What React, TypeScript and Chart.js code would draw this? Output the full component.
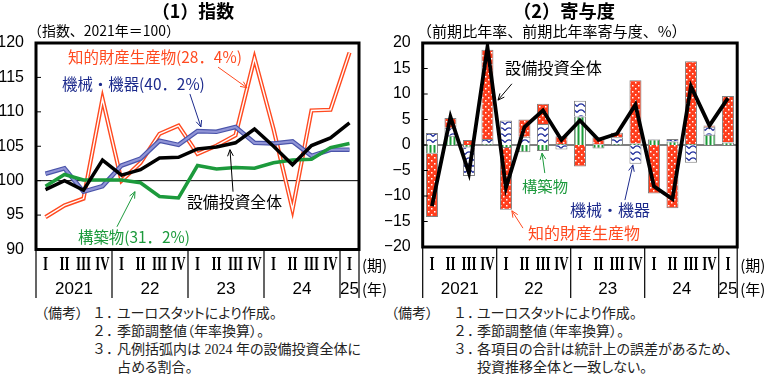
import React, { useEffect, useRef } from 'react';
import { Chart, registerables } from 'chart.js';
Chart.register(...registerables);

// ---------- data ----------
const quarterLabels = ['I', 'II', 'III', 'IV', 'I', 'II', 'III', 'IV', 'I', 'II', 'III', 'IV', 'I', 'II', 'III', 'IV', 'I'];
const yearLabels = ['2021', '22', '23', '24', '25'];
const yearSpans = [4, 4, 4, 4, 1];

// (1) index, 2021 = 100
const totalIndex = [98.7, 100.0, 98.6, 103.0, 100.8, 101.6, 103.3, 103.4, 104.6, 104.9, 105.5, 107.5, 105.0, 102.3, 105.1, 106.2, 108.4];
const machineryIndex = [101.0, 101.8, 98.4, 99.2, 102.2, 103.2, 105.8, 105.2, 107.2, 107.1, 107.8, 105.5, 105.4, 105.7, 103.6, 104.5, 104.5];
const constructionIndex = [99.2, 100.9, 100.1, 100.1, 100.1, 99.7, 97.7, 97.5, 102.2, 101.7, 101.9, 101.8, 102.6, 103.0, 103.1, 104.8, 105.4];
const ipIndex = [94.7, 96.4, 97.4, 111.9, 100.0, 102.6, 106.8, 108.0, 103.9, 105.1, 106.6, 117.8, 107.5, 95.8, 110.2, 110.3, 118.6];

// (2) contributions, annualised q/q %
const totalGrowth = [-12.0, 5.5, -5.5, 19.2, -8.4, 3.5, 6.8, 1.0, 4.8, 1.0, 2.2, 7.9, -8.1, -10.6, 11.5, 3.8, 9.2];
const constructionContrib = [-1.7, 1.8, -0.5, 0.2, -0.6, -1.4, -1.2, 0.2, 5.6, -0.7, 0.2, 0.3, 1.1, 0.7, 0.2, 2.0, 0.5];
const machineryContrib = [2.35, 1.6, -5.6, 1.0, 4.8, 1.6, 4.1, -0.9, 3.1, 0.2, 1.3, -3.7, 0.1, 0.5, -3.5, 1.6, 0.1];
const ipContrib = [-12.4, 1.9, 1.0, 17.5, -12.1, 3.4, 4.0, 1.5, -4.2, 1.3, 0.9, 12.4, -9.5, -12.4, 16.2, 0.2, 9.0];

// ---------- styles ----------
const ORANGE = '#ff4a20';
const NAVY = '#1c2a8c';
const GREEN = '#1c9a3c';
const FONT_CJK = "'Noto Sans CJK JP', 'Noto Sans', sans-serif";
const FONT_NUM = "'Liberation Sans Narrow', 'Liberation Sans', Arial, sans-serif";
const FONT_SERIF = "'Liberation Serif', 'DejaVu Serif', serif";

type Label = { text: string; x: number; y: number; w: number; size: number; color: string; weight?: string; align?: CanvasTextAlign };
type Arrow = { from: [number, number]; to: [number, number]; color: string };

function fitText(ctx: CanvasRenderingContext2D, l: Label, offX: number) {
  const weight = l.weight || 'normal';
  ctx.font = `${weight} ${l.size}px ${FONT_CJK}`;
  const w = ctx.measureText(l.text).width;
  let s = l.size * (l.w / w);
  s = Math.max(l.size * 0.85, Math.min(l.size * 1.15, s));
  ctx.font = `${weight} ${s}px ${FONT_CJK}`;
  ctx.fillStyle = l.color;
  ctx.textAlign = l.align || 'left';
  ctx.textBaseline = 'middle';
  ctx.fillText(l.text, l.x - offX, l.y);
}

function drawArrow(ctx: CanvasRenderingContext2D, x1: number, y1: number, x2: number, y2: number, color: string) {
  ctx.save();
  ctx.strokeStyle = color;
  ctx.lineWidth = 1;
  ctx.beginPath();
  ctx.moveTo(x1, y1);
  ctx.lineTo(x2, y2);
  const a = Math.atan2(y2 - y1, x2 - x1);
  const len = 7;
  ctx.moveTo(x2, y2);
  ctx.lineTo(x2 - len * Math.cos(a - 0.42), y2 - len * Math.sin(a - 0.42));
  ctx.moveTo(x2, y2);
  ctx.lineTo(x2 - len * Math.cos(a + 0.42), y2 - len * Math.sin(a + 0.42));
  ctx.stroke();
  ctx.restore();
}

function makeDecor(id: string, offX: number, refValue: number, labels: Label[], arrows: Arrow[]) {
  return {
    id,
    beforeDatasetsDraw(chart: any) {
      const { ctx, chartArea } = chart;
      const y = chart.scales.y.getPixelForValue(refValue);
      ctx.save();
      ctx.strokeStyle = '#000';
      ctx.lineWidth = 1;
      ctx.beginPath();
      ctx.moveTo(chartArea.left, y);
      ctx.lineTo(chartArea.right, y);
      ctx.stroke();
      ctx.restore();
    },
    afterDraw(chart: any) {
      const { ctx, chartArea } = chart;
      const xs = chart.scales.x;
      const ys = chart.scales.y;
      ctx.save();
      // frame
      ctx.strokeStyle = '#000';
      ctx.lineWidth = 3;
      ctx.strokeRect(chartArea.left, chartArea.top, chartArea.right - chartArea.left, chartArea.bottom - chartArea.top);
      // inward ticks
      ctx.lineWidth = 1;
      ys.ticks.forEach((t: any) => {
        const y = ys.getPixelForValue(t.value);
        ctx.beginPath();
        ctx.moveTo(chartArea.left, y);
        ctx.lineTo(chartArea.left + 5, y);
        ctx.stroke();
      });
      // quarter numerals (condensed bold serif)
      ctx.fillStyle = '#000';
      ctx.textAlign = 'center';
      ctx.textBaseline = 'middle';
      ctx.font = `bold 18px ${FONT_SERIF}`;
      quarterLabels.forEach((q, i) => {
        ctx.save();
        ctx.translate(xs.getPixelForValue(i), 265);
        ctx.scale(0.72, 1);
        ctx.fillText(q, 0, 0);
        ctx.restore();
      });
      // year labels & separators
      ctx.font = `17px ${FONT_NUM}`;
      ctx.lineWidth = 1.2;
      let start = 0;
      const sepX = (b: number) => xs.getPixelForValue(b - 0.5);
      ctx.beginPath();
      ctx.moveTo(sepX(0), chartArea.bottom);
      ctx.lineTo(sepX(0), 298);
      yearSpans.forEach((span, k) => {
        const end = start + span;
        const cx = (sepX(start) + sepX(end)) / 2;
        ctx.fillText(yearLabels[k], cx, 289);
        ctx.moveTo(sepX(end), chartArea.bottom);
        ctx.lineTo(sepX(end), 298);
        start = end;
      });
      ctx.stroke();
      ctx.font = `15px ${FONT_CJK}`;
      ctx.textAlign = 'left';
      ctx.fillText('(期)', chartArea.right + 3, 265);
      ctx.fillText('(年)', chartArea.right + 3, 289);
      // labels
      labels.forEach((l) => fitText(ctx, l, offX));
      // arrows
      arrows.forEach((a) => {
        drawArrow(
          ctx,
          xs.getPixelForValue(a.from[0]), ys.getPixelForValue(a.from[1]),
          xs.getPixelForValue(a.to[0]), ys.getPixelForValue(a.to[1]),
          a.color
        );
      });
      ctx.restore();
    },
  };
}

function makePattern(kind: 'dots' | 'waves' | 'stripes'): CanvasPattern | string {
  const c = document.createElement('canvas');
  const g = c.getContext('2d')!;
  if (kind === 'dots') {
    c.width = 6; c.height = 6;
    g.fillStyle = '#ff3d1c';
    g.fillRect(0, 0, 6, 6);
    g.fillStyle = '#ffffff';
    g.fillRect(1, 1, 1.5, 1.5);
    g.fillRect(4, 4, 1.5, 1.5);
  } else if (kind === 'waves') {
    c.width = 8; c.height = 6;
    g.fillStyle = '#ffffff';
    g.fillRect(0, 0, 8, 6);
    g.strokeStyle = '#1c2a9a';
    g.lineWidth = 1.4;
    g.beginPath();
    g.moveTo(0, 4.6);
    g.quadraticCurveTo(4, -0.8, 8, 4.6);
    g.stroke();
  } else {
    c.width = 4; c.height = 4;
    g.fillStyle = '#ffffff';
    g.fillRect(0, 0, 4, 4);
    g.fillStyle = '#1a9a38';
    g.fillRect(0.5, 0, 2, 4);
  }
  return g.createPattern(c, 'repeat') || '#888';
}

const leftLabels: Label[] = [
  { text: '（1）指数', x: 193, y: 11, w: 82, size: 18, color: '#000', weight: 'bold', align: 'center' },
  { text: '（指数、2021年＝100）', x: 28, y: 31, w: 152, size: 14, color: '#000' },
  { text: '知的財産生産物(28．4%)', x: 68, y: 57, w: 174, size: 15, color: ORANGE },
  { text: '機械・機器(40．2%)', x: 62, y: 84, w: 143, size: 15, color: NAVY },
  { text: '設備投資全体', x: 187, y: 202, w: 95, size: 16, color: '#000' },
  { text: '構築物(31．2%)', x: 78, y: 237, w: 112, size: 15, color: GREEN },
];
const leftArrows: Arrow[] = [
  { from: [9.08, 116.5], to: [10.6, 113.5], color: ORANGE },
  { from: [7.6, 112.6], to: [8.18, 107.8], color: NAVY },
  { from: [9.87, 98.4], to: [9.71, 104.5], color: '#000' },
  { from: [3.76, 93.3], to: [4.71, 98.4], color: GREEN },
];
const rightLabels: Label[] = [
  { text: '（2）寄与度', x: 564, y: 11, w: 102, size: 18, color: '#000', weight: 'bold', align: 'center' },
  { text: '（前期比年率、前期比年率寄与度、%）', x: 417, y: 31, w: 270, size: 15, color: '#000' },
  { text: '設備投資全体', x: 505, y: 68, w: 97, size: 16, color: '#000' },
  { text: '構築物', x: 522, y: 186, w: 46, size: 15, color: GREEN },
  { text: '機械・機器', x: 570, y: 210, w: 80, size: 16, color: NAVY },
  { text: '知的財産生産物', x: 528, y: 233, w: 112, size: 16, color: ORANGE },
];
const rightArrows: Arrow[] = [
  { from: [4.32, 12.0], to: [3.57, 8.8], color: '#000' },
  { from: [6.1, -5.5], to: [5.95, -1.6], color: GREEN },
  { from: [10.43, -10.8], to: [10.86, -3.9], color: NAVY },
  { from: [4.92, -16.3], to: [4.32, -12.9], color: ORANGE },
];

const tickFont = { family: FONT_NUM, size: 16 };

export default function App() {
  const leftRef = useRef<HTMLCanvasElement>(null);
  const rightRef = useRef<HTMLCanvasElement>(null);

  useEffect(() => {
    const line = (data: number[], color: string, width: number) => ({
      data, borderColor: color, borderWidth: width, pointRadius: 0, tension: 0, fill: false,
    });
    const c1 = new Chart(leftRef.current!, {
      type: 'line',
      data: {
        labels: quarterLabels,
        datasets: [
          line(totalIndex, '#000', 3.5),
          line(constructionIndex, '#1c9a3c', 3.5),
          line(machineryIndex, '#9094d6', 2.2),
          line(machineryIndex, '#4a54aa', 4.6),
          line(ipIndex, '#ffffff', 1.4),
          line(ipIndex, ORANGE, 4.2),
        ] as any,
      },
      options: {
        responsive: false,
        animation: false,
        layout: { padding: { top: 43, right: 36, bottom: 55.5, left: 0 } },
        plugins: { legend: { display: false }, tooltip: { enabled: false } },
        scales: {
          x: { display: false, offset: true },
          y: {
            min: 90, max: 120,
            ticks: { stepSize: 5, font: tickFont, color: '#000', padding: 12 },
            grid: { display: false, drawTicks: false },
            border: { display: false },
            afterFit: (s: any) => { s.width = 36; },
          },
        },
      } as any,
      plugins: [makeDecor('decorL', 0, 100, leftLabels, leftArrows)],
    });

    const c2 = new Chart(rightRef.current!, {
      type: 'bar',
      data: {
        labels: quarterLabels,
        datasets: [
          {
            type: 'line', data: totalGrowth, borderColor: '#000', borderWidth: 3.8,
            pointRadius: 0, tension: 0, fill: false, stack: 'total',
          },
          {
            data: constructionContrib, backgroundColor: makePattern('stripes'),
            borderColor: '#808080', borderWidth: 1, stack: 'bars',
            barPercentage: 0.65, categoryPercentage: 1,
          },
          {
            data: machineryContrib, backgroundColor: makePattern('waves'),
            borderColor: '#808080', borderWidth: 1, stack: 'bars',
            barPercentage: 0.65, categoryPercentage: 1,
          },
          {
            data: ipContrib, backgroundColor: makePattern('dots'),
            borderColor: '#808080', borderWidth: 1, stack: 'bars',
            barPercentage: 0.65, categoryPercentage: 1,
          },
        ] as any,
      },
      options: {
        responsive: false,
        animation: false,
        layout: { padding: { top: 43, right: 35.8, bottom: 58, left: 0 } },
        plugins: { legend: { display: false }, tooltip: { enabled: false } },
        scales: {
          x: { display: false, offset: true },
          y: {
            stacked: true,
            min: -20, max: 20,
            ticks: {
              stepSize: 5, font: tickFont, color: '#000', padding: 12,
              callback: (v: any) => String(v).replace('-', '−'),
            },
            grid: { display: false, drawTicks: false },
            border: { display: false },
            afterFit: (s: any) => { s.width = 37.7; },
          },
        },
      } as any,
      plugins: [makeDecor('decorR', 385, 0, rightLabels, rightArrows)],
    });
    return () => { c1.destroy(); c2.destroy(); };
  }, []);

  const noteStyle: React.CSSProperties = {
    position: 'absolute', fontSize: 14, lineHeight: '18px', whiteSpace: 'nowrap',
    fontFamily: "'Liberation Serif', 'Noto Sans CJK JP', serif", color: '#222',
  };
  const rows = [305, 323, 341, 359];
  const note = (left: number, top: number, text: string, key: string, palt = true) => (
    <div key={key} style={{ ...noteStyle, left, top, fontFeatureSettings: palt ? '"palt"' : 'normal' }}>{text}</div>
  );

  return (
    <div style={{ position: 'absolute', left: 0, top: 0, width: 773, height: 377, background: '#fff', overflow: 'hidden' }}>
      <canvas ref={leftRef} width={395} height={305} style={{ position: 'absolute', left: 0, top: 0 }} />
      <canvas ref={rightRef} width={388} height={305} style={{ position: 'absolute', left: 385, top: 0 }} />
      {note(41, rows[0], '（備考）', 'l0')}
      {note(92, rows[0], '１．', 'l1', false)}
      {note(117, rows[0], 'ユーロスタットにより作成。', 'l2')}
      {note(92, rows[1], '２．', 'l3', false)}
      {note(117, rows[1], '季節調整値（年率換算）。', 'l4')}
      {note(92, rows[2], '３．', 'l5', false)}
      {note(117, rows[2], '凡例括弧内は 2024 年の設備投資全体に', 'l6')}
      {note(117, rows[3], '占める割合。', 'l7')}
      {note(391, rows[0], '（備考）', 'r0')}
      {note(453, rows[0], '１．', 'r1', false)}
      {note(477, rows[0], 'ユーロスタットにより作成。', 'r2')}
      {note(453, rows[1], '２．', 'r3', false)}
      {note(477, rows[1], '季節調整値（年率換算）。', 'r4')}
      {note(453, rows[2], '３．', 'r5', false)}
      {note(477, rows[2], '各項目の合計は統計上の誤差があるため、', 'r6')}
      {note(477, rows[3], '投資推移全体と一致しない。', 'r7')}
    </div>
  );
}
